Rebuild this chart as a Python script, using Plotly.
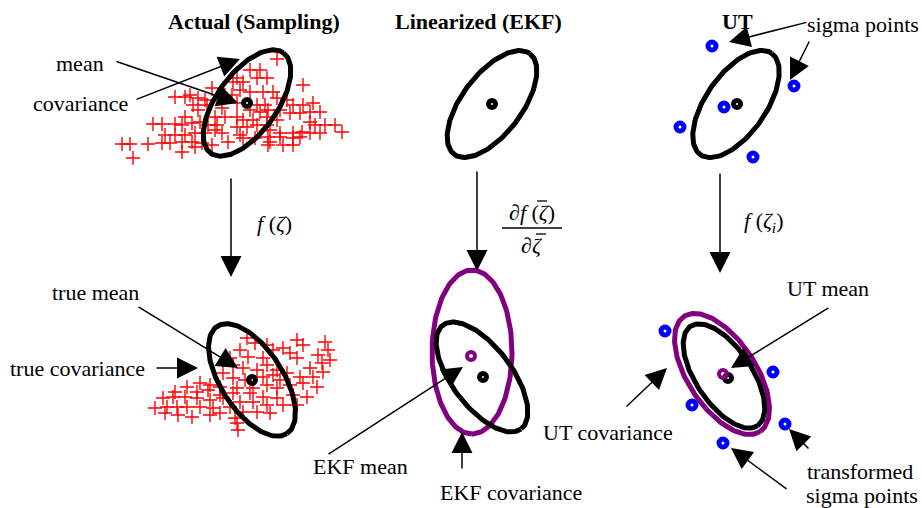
import numpy as np
import plotly.graph_objects as go

# ---------------- data ----------------
# sample cloud before transform (pixel-space estimates)
samples_in = [
    (175,97),(185,97),(198,98),(205,100),(193,105),(198,110),(207,105),(185,117),
    (153,124),(162,124),(175,124),(182,125),(192,123),(200,122),(208,125),(217,125),
    (225,117),(215,117),(165,135),(175,135),(185,135),(195,133),(205,133),(215,130),
    (222,133),(162,143),(170,143),(182,142),(192,142),(202,143),(212,145),(122,144),
    (130,144),(148,144),(133,158),(182,152),(195,147),(190,95),(218,95),(212,88),
    (225,95),(222,108),
    (277,59),(250,70),(260,70),(257,78),(267,78),(237,78),(243,82),(303,85),(240,90),
    (250,92),(263,92),(273,92),(232,95),(277,98),(287,100),(237,103),(257,105),(265,105),
    (293,105),(303,105),(313,103),(250,110),(260,112),(268,110),(280,110),(290,113),
    (300,113),(310,112),(320,112),(237,117),(243,120),(253,120),(267,117),(277,120),
    (310,122),(315,125),(325,125),(335,125),(237,127),(247,127),(257,125),(267,125),
    (270,130),(280,133),(293,133),(302,132),(310,133),(320,133),(342,132),(243,138),
    (255,138),(268,137),(270,142),(280,137),(293,138),(300,137),(283,145),(293,145),
    (268,145),(233,82),(240,135),(228,142),
]
# sample cloud after transform
samples_out = [
    (247,338),(255,343),(267,345),(283,348),(297,340),(303,345),(325,342),(328,350),
    (240,350),(248,357),(263,358),(273,350),(290,353),(297,358),(318,355),(330,360),
    (322,363),(230,358),(233,365),(243,368),(257,370),(267,365),(277,370),(287,373),
    (310,368),(323,372),(223,373),(233,378),(245,380),(263,377),(273,375),(280,380),
    (300,377),(313,377),(303,383),(317,387),(200,383),(210,385),(220,387),(237,388),
    (253,388),(267,385),(277,388),(290,385),(175,392),(187,387),(197,392),(208,390),
    (220,395),(233,393),(250,393),(263,397),(277,398),(293,395),(307,397),(163,398),
    (173,397),(185,397),(197,398),(210,400),(223,398),(240,402),(253,402),(267,405),
    (283,405),(297,405),(155,408),(167,407),(177,407),(187,407),(200,407),(213,408),
    (230,407),(243,412),(257,412),(270,413),(165,413),(178,415),(192,417),(210,415),
    (220,413),(235,418),(237,423),(238,430),
]
# ellipses: (cx, cy, semi-major, semi-minor, angle deg [screen], colour)
ellipse_cx    = [247, 492, 736, 252, 472, 482, 722, 724]
ellipse_cy    = [103, 104, 104, 380, 352, 377, 374, 376]
ellipse_a     = [62, 63, 62, 64, 82, 65, 69, 60]
ellipse_b     = [30, 30, 30, 31, 40, 30, 34, 28]
ellipse_ang   = [-54, -53, -55, 57, 90, 53, 56.5, 56]
ellipse_color = ["black", "black", "black", "black", "#800080", "black", "#800080", "black"]

mean_x = [247, 492, 737, 252, 483, 728]
mean_y = [103, 104, 104, 380, 377, 378]
purple_mean_x = [471, 723]
purple_mean_y = [356, 374]
sigma_x = [712, 794, 724, 680, 753]
sigma_y = [46, 86, 107, 127, 157]
sigma_t_x = [665, 773, 692, 785, 723]
sigma_t_y = [331, 372, 405, 424, 443]

# ---------------- figure ----------------
fig = go.Figure()
for pts in (samples_in, samples_out):
    sx, sy = zip(*pts)
    fig.add_trace(go.Scatter(x=sx, y=sy, mode="markers",
        marker=dict(symbol="cross-thin", size=10, color="red", line=dict(width=1.4, color="red"))))

t = np.linspace(0, 2*np.pi, 200)
for cx, cy, a, b, ang, col in zip(ellipse_cx, ellipse_cy, ellipse_a, ellipse_b, ellipse_ang, ellipse_color):
    th = np.deg2rad(ang)
    ex = cx + a*np.cos(t)*np.cos(th) - b*np.sin(t)*np.sin(th)
    ey = cy + a*np.cos(t)*np.sin(th) + b*np.sin(t)*np.cos(th)
    fig.add_trace(go.Scatter(x=ex, y=ey, mode="lines", line=dict(color=col, width=5)))

fig.add_trace(go.Scatter(x=mean_x, y=mean_y, mode="markers",
    marker=dict(symbol="circle-open", size=7, color="black", line=dict(width=5, color="black"))))
fig.add_trace(go.Scatter(x=purple_mean_x, y=purple_mean_y, mode="markers",
    marker=dict(symbol="circle-open", size=8, color="#800080", line=dict(width=4, color="#800080"))))
fig.add_trace(go.Scatter(x=sigma_x + sigma_t_x, y=sigma_y + sigma_t_y, mode="markers",
    marker=dict(symbol="circle-open", size=8, color="#0000ff", line=dict(width=5, color="#0000ff"))))

FONT = "Liberation Serif"
ann = []
def text(x, y, s, size=22, **kw):
    ann.append(dict(x=x, y=y, text=s, showarrow=False, xref="x", yref="y",
                    font=dict(family=FONT, size=size, color="black"), **kw))
def arrow(x0, y0, x1, y1):
    ann.append(dict(x=x1, y=y1, ax=x0, ay=y0, xref="x", yref="y", axref="x", ayref="y",
                    text="", showarrow=True, arrowhead=2, arrowsize=2.8, arrowwidth=1.5,
                    arrowcolor="black", standoff=0, startstandoff=0))

text(254, 21, "<b>Actual (Sampling)</b>")
text(478, 21, "<b>Linearized (EKF)</b>")
text(737, 21, "<b>UT</b>")
text(80, 63, "mean")
text(80, 103, "covariance")
arrow(115, 61, 238, 103)
arrow(135, 100, 240, 59)
arrow(231, 177, 231, 277)
text(274, 223, "<i>f</i> (<i>ζ</i>)")
text(95, 292, "true mean")
arrow(137, 306, 238, 368)
text(77, 368, "true covariance")
arrow(155, 368, 198, 368)
arrow(477, 170, 477, 271)
text(532, 212, "∂<i>f</i> (<i>ζ</i>)")
text(532, 245, "∂<i>ζ</i>")
text(360, 466, "EKF mean")
arrow(327, 455, 463, 367)
text(511, 492, "EKF covariance")
arrow(462, 470, 462, 432)
text(863, 24, "sigma points")
arrow(808, 22, 729, 42)
arrow(810, 40, 790, 80)
arrow(720, 172, 720, 273)
text(763, 222, "<i>f</i> (<i>ζ<sub>i</sub></i>)")
text(828, 288, "UT mean")
arrow(830, 307, 731, 368)
text(608, 432, "UT covariance")
arrow(625, 408, 667, 368)
text(860, 471, "transformed")
text(862, 495, "sigma points")
arrow(810, 450, 789, 429)
arrow(788, 490, 731, 448)

line = dict(color="black", width=1.3)
fig.update_layout(
    width=922, height=508, margin=dict(l=0, r=0, t=0, b=0),
    paper_bgcolor="white", plot_bgcolor="white", showlegend=False,
    xaxis=dict(range=[0, 922], visible=False, fixedrange=True),
    yaxis=dict(range=[508, 0], visible=False, fixedrange=True),
    annotations=ann,
    shapes=[dict(type="line", xref="x", yref="y", x0=502, x1=562, y0=228, y1=228, line=line),
            dict(type="line", xref="x", yref="y", x0=537, x1=547, y0=201, y1=201, line=line),
            dict(type="line", xref="x", yref="y", x0=536, x1=546, y0=234, y1=234, line=line)],
)
fig.write_html("out.html")
